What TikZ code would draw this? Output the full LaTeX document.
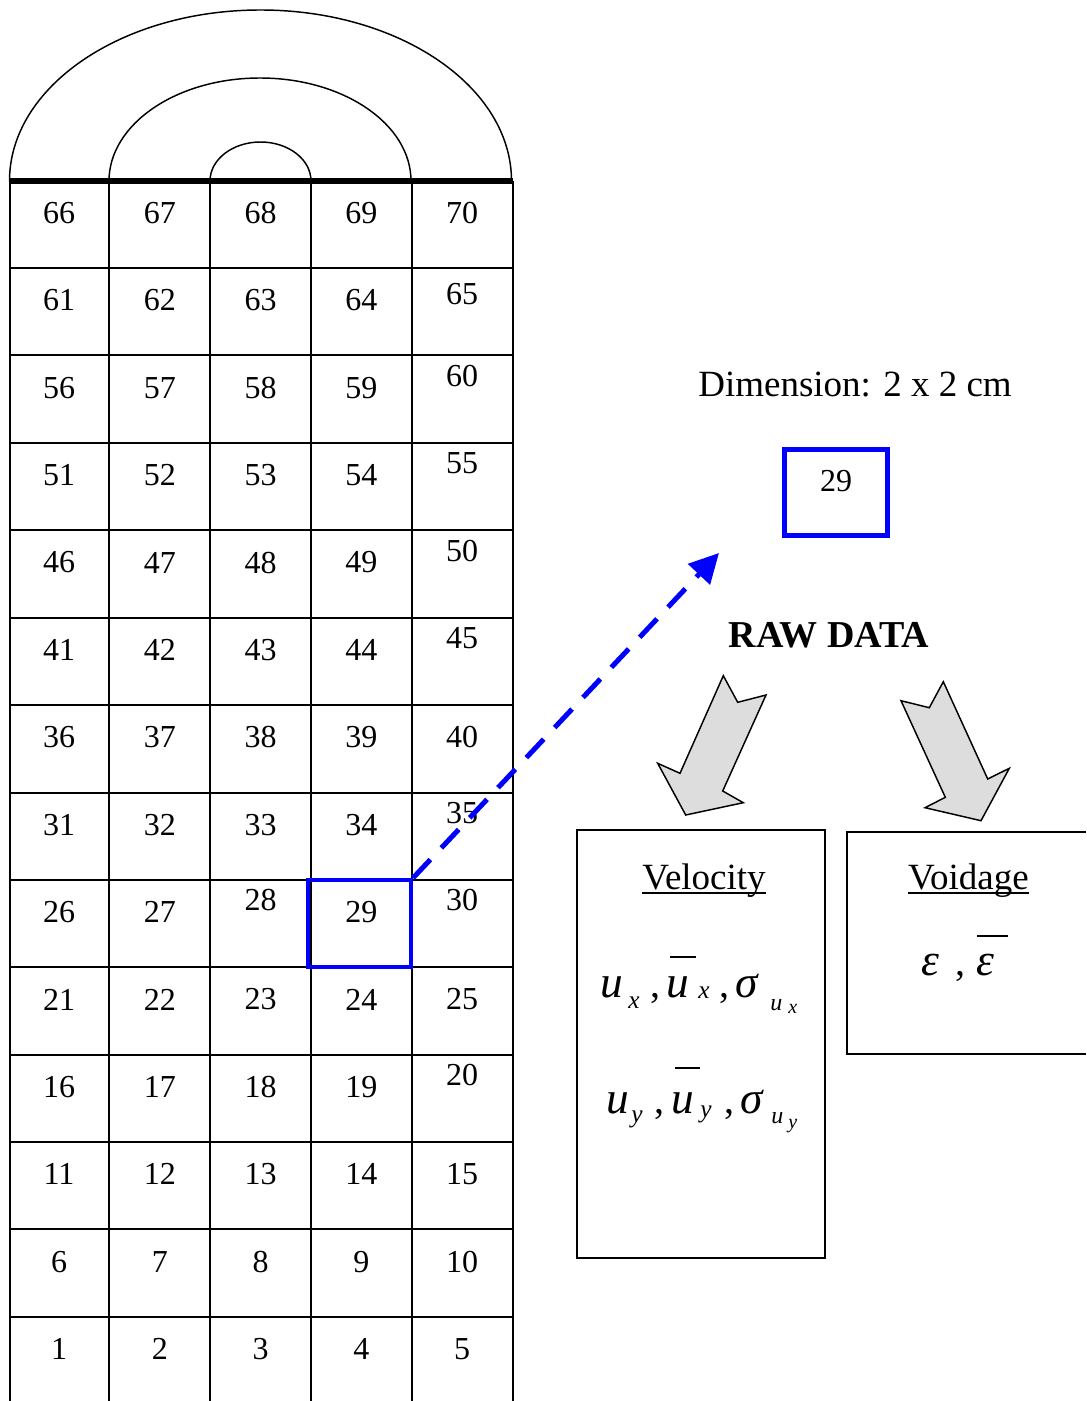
\documentclass[tikz,border=0pt]{standalone}
\usepackage{fontspec}
\setmainfont{Liberation Serif}
\usetikzlibrary{arrows.meta}
\begin{document}
\begin{tikzpicture}[x=0.75pt,y=-0.75pt,
  gridline/.style={line width=1.5pt},
  arcline/.style={line width=1.1pt},
  num/.style={font=\fontsize{24}{28}\selectfont, inner sep=0pt},
  big/.style={font=\fontsize{27.75}{33}\selectfont, inner sep=0pt},
  fb/.style={font=\fontsize{34}{36}\selectfont\itshape, inner sep=0pt, anchor=base west},
  fs/.style={font=\fontsize{19}{21}\selectfont\itshape, inner sep=0pt, anchor=base west},
  fsu/.style={font=\fontsize{18}{20}\selectfont\itshape, inner sep=0pt, anchor=base west},
  fss/.style={font=\fontsize{15}{17}\selectfont\itshape, inner sep=0pt, anchor=base west},
  fc/.style={font=\fontsize{30}{36}\selectfont, inner sep=0pt, anchor=base west},
  barline/.style={line width=1.2pt},
  garrow/.style={fill=gray!27, draw=black, line width=1.1pt, line join=miter},
  boxline/.style={draw, line width=1.5pt},
  bluebox/.style={draw=blue, inner sep=0pt}]
\useasboundingbox (0,0) rectangle (1086,1401);

% arcs on top
\draw[arcline] (9.5,181) arc[start angle=180, end angle=360, x radius=251, y radius=171];
\draw[arcline] (109,181) arc[start angle=180, end angle=360, x radius=151, y radius=103];
\draw[arcline] (210,181) arc[start angle=180, end angle=360, x radius=50.5, y radius=39];

% grid
\foreach \x in {10,109,210,311,412,513} \draw[gridline] (\x,181) -- (\x,1401);
\foreach \y in {268,355,443,530,618,705,793,880,967,1055,1142,1229,1317}
  \draw[gridline] (10,\y) -- (513,\y);
\draw[line width=3.8pt] (9,181) -- (513,181);

% cell numbers
\foreach \r in {0,...,13} {
  \foreach \c in {1,...,5} {
    \pgfmathtruncatemacro\n{(13-\r)*5+\c}
    \pgfmathsetmacro\dy{6*equal(\n,65)+12*(equal(\n,60)+equal(\n,55)+equal(\n,50)+equal(\n,45)+equal(\n,35)+equal(\n,30)+equal(\n,28)+equal(\n,20))}
    \pgfmathsetmacro\yy{213+\r*87.38-\dy}
    \pgfmathsetmacro\xx{59+(\c-1)*100.75}
    \node[num] (n\n) at (\xx,\yy) {\n};
  }
}

% highlighted cell 29
\node[bluebox, line width=3pt, minimum width=77.25pt, minimum height=65.25pt] (sel) at (359.5,923.5) {};

% enlarged cell
\node[big] (dim) at (855,385) {Dimension: 2 x 2 cm};
\node[bluebox, line width=3.75pt, minimum width=77.25pt, minimum height=64.5pt] (zbox) at (836,492.5) {};
\node[num] (ztxt) at (836,481) {29};

% dashed arrow
\coordinate (tip) at (719,553);
\draw[blue, line width=3.75pt, dash pattern=on 19pt off 12pt,
  -{Triangle[length=22pt,width=22pt]}] (sel.north east) -- (tip);

% raw data
\node[big, font=\fontsize{28.5}{33}\selectfont\bfseries] (raw) at (829,635) {RAW DATA};

% grey block arrows
\draw[garrow] (723.3,675.7) -- (737.7,702.3) -- (766,695) -- (722.7,791) -- (743.3,802.7)
  -- (685.7,815) -- (657.7,763.3) -- (680,773.3) -- cycle;
\draw[garrow] (943.3,681.7) -- (929.3,707.7) -- (901,700.7) -- (945.3,797.3) -- (925,807.7)
  -- (981,820.7) -- (1009.3,768.3) -- (987.7,779) -- cycle;

% velocity box
\node[boxline, minimum width=186pt, minimum height=321pt, inner sep=0pt] (velbox) at (701,1044) {};
\node[big, anchor=base] (vel) at (704,889) {Velocity};
\draw[line width=1.3pt] ([yshift=-3pt]vel.base west) -- ([yshift=-3pt]vel.base east);

% formula 1
\node[fb] (a1) at (600,997) {u};
\node[fs] (a2) at (628,1008) {x};
\node[fc] (a3) at (650,997) {,};
\node[fb] (a4) at (666,997) {u};
\node[fs] (a5) at (698,998) {x};
\node[fc] (a6) at (719,997) {,};
\node[fb] (a7) at (735,997) {σ};
\node[fsu] (a8) at (770,1010) {u};
\node[fss] (a9) at (788,1013) {x};
\draw[barline] (670,957) -- (696,957);

% formula 2
\node[fb] (b1) at (606,1113) {u};
\node[fs] (b2) at (631,1122) {y};
\node[fc] (b3) at (654,1113) {,};
\node[fb] (b4) at (671,1113) {u};
\node[fs] (b5) at (700,1117) {y};
\node[fc] (b6) at (724,1113) {,};
\node[fb] (b7) at (740,1113) {σ};
\node[fsu] (b8) at (771,1123) {u};
\node[fss] (b9) at (788,1128) {y};
\draw[barline] (675,1068) -- (700,1068);

% voidage box
\draw[boxline] (1086,832) -- (847,832) -- (847,1054) -- (1086,1054);
\node[big, anchor=base] (void) at (968.5,889) {Voidage};
\draw[line width=1.3pt] ([yshift=-3pt]void.base west) -- ([yshift=-3pt]void.base east);
\node[fb] (e1) at (921,975) {ε};
\node[fc] (e2) at (955,975) {,};
\node[fb] (e3) at (976,975) {ε};
\draw[barline] (977,936) -- (1008,936);
\end{tikzpicture}
\end{document}
